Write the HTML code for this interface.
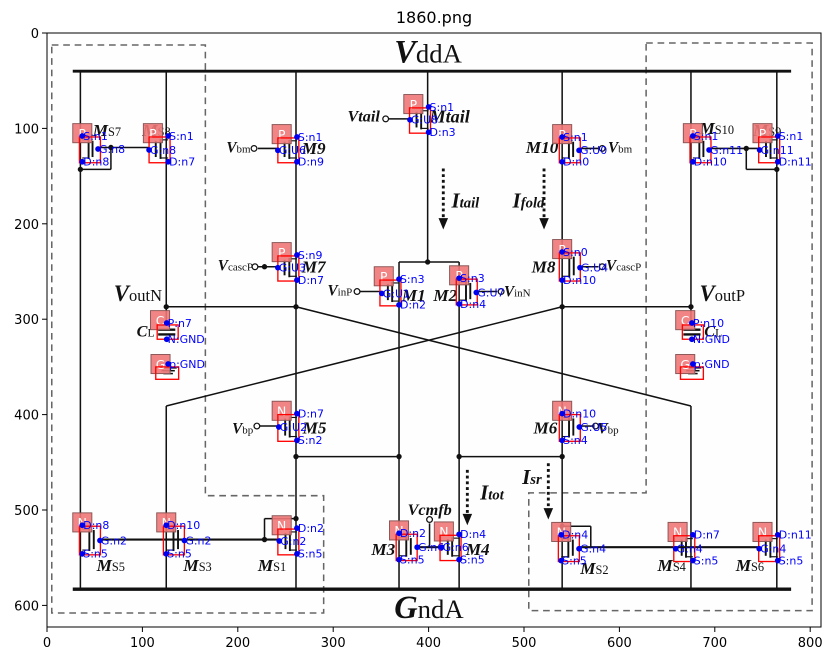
<!DOCTYPE html>
<html><head><meta charset="utf-8"><style>
html,body{margin:0;padding:0;background:#fff;}
svg{display:block;}
.tk{font-family:"DejaVu Sans","Liberation Sans",sans-serif;font-size:13px;fill:#000;}
.sl{font-family:"Liberation Serif",serif;font-style:italic;font-weight:bold;fill:#111;}
.bl{font-family:"DejaVu Sans","Liberation Sans",sans-serif;font-size:11.5px;fill:#0000ff;}
</style></head><body>
<svg id="fig" width="833" height="661" viewBox="0 0 833 661" xmlns="http://www.w3.org/2000/svg">
<rect x="0" y="0" width="833" height="661" fill="#fff"/>
<text x="434" y="23" text-anchor="middle" font-family="DejaVu Sans, Liberation Sans, sans-serif" font-size="16">1860.png</text>
<g id="img" transform="translate(47,33) scale(0.954)">
<rect x="0" y="0" width="811" height="623" fill="#fefefe"/>
<g id="dash" fill="none" stroke="#666" stroke-width="1.6" stroke-dasharray="7,5">
<polyline points="5,12.6 166,12.6 166,485 290,485 290,608 5,608 5,12.6"/>
<polyline points="628,10.5 802,10.5 802,605.5 505,605.5 505,482 628,482 628,10.5"/>
</g>
<g id="wires" stroke="#111" fill="none"></g>
<g id="labels"></g>
<g id="devs"></g>
</g>
<rect x="47" y="33" width="774" height="594" fill="none" stroke="#000" stroke-width="1"/>
<g id="axes"></g>
</svg>
<script>
const NS='http://www.w3.org/2000/svg';
// axis data
const xTicks=[0,100,200,300,400,500,600,700,800];
const yTicks=[0,100,200,300,400,500,600];
// devices: type, column x, gate x, top y, mid y, bottom y, labels (top, gate, bottom)
const devTypes=['P','P','P','P','P','P','P','P','P','P','P','N','N','N','N','N','N','N','N','N','N'];
const devCol=[37,127,262,400,262,369,432,540,540,677,766,262,540,37,125,262,369,432,539,677,766];
const devGate=[53.5,107,242,380.5,242,351,450,557.7,558.7,694,747,243,558,55.5,144,243.5,388,413.7,557.7,659,746.6];
const devTop=[108,108,109,77.5,232.7,258,257,109,229.5,108,108,399,399,516,516,519,524.4,525.5,526,526,526];
const devMid=[121.6,122.6,123,91,246,273,272,123,246,122.6,122.6,413,413,532,532,532.5,539,539,540.6,540.6,540.6];
const devBot=[135,135,135,104,259,285,284,135,259,135,135,427,427,546,546,546,552,552,553,553,553];
const devLabels=[['S:n1','G:n8','D:n8'],['S:n1','G:n8','D:n7'],['S:n1','G:U6','D:n9'],['S:n1','G:U8','D:n3'],['S:n9','G:U3','D:n7'],['S:n3','G:U1','D:n2'],['S:n3','G:U7','D:n4'],['S:n1','G:U0','D:n0'],['S:n0','G:U4','D:n10'],['S:n1','G:n11','D:n10'],['S:n1','G:n11','D:n11'],['D:n7','G:U2','S:n2'],['D:n10','G:U5','S:n4'],['D:n8','G:n2','S:n5'],['D:n10','G:n2','S:n5'],['D:n2','G:n2','S:n5'],['D:n2','G:n6','S:n5'],['D:n4','G:n6','S:n5'],['D:n4','G:n4','S:n5'],['D:n7','G:n4','S:n5'],['D:n11','G:n4','S:n5']];
// capacitors and grounds
const capCol=[125.5,676];
const capTop=[304,304];
const capBot=[321,321];
const capLabels=[['P:n7','N:GND'],['P:n10','N:GND']];
const gndCol=[127,677];
const gndY=[347,347];

function el(tag,attrs,parent){const e=document.createElementNS(NS,tag);for(const k in attrs)e.setAttribute(k,attrs[k]);parent.appendChild(e);return e;}
const W=document.getElementById('wires'),L=document.getElementById('labels'),D=document.getElementById('devs'),A=document.getElementById('axes');
function line(x1,y1,x2,y2,w,name){const e=el('line',{x1,y1,x2,y2,'stroke-width':w},W);

return e;}
// rails
line(27,40,780,40,3,'vdda-rail');line(27,583,780,583,3.6,'gnda-rail');
const segs=[[35,40,35,583],[125,40,125,305],[125,391,125,583],[261,40,261,583],[399,40,399,240],[369,240,369,583],[432,240,432,583],[540,40,540,583],[675,40,675,305],[675,391,675,583],[765,40,765,583],
[369,240,432,240],[125,287,261,287],[540,287,675,287],[261,444,369,444],[432,444,540,444],[261,287,675,391],[540,287,125,391],
[53,120,107,120],[67,120,67,143],[35,143,67,143],[694,121,747,121],[733,121,733,143],[733,143,765,143],
[221,121,243,121],[558,121,578,121],[358,90,380,90],[221,245,243,245],[558,245,578,245],[328,271,351,271],[450,271,472,271],[223,412,243,412],[558,412,572,412],
[55,531,243,531],[228,509,228,531],[228,509,261,509],[388,539,414,539],[401,514,401,539],[557,539,747,539],[540,517,570,517],[570,517,570,539]];
segs.forEach(s=>{line(s[0],s[1],s[2],s[3],(s[1]==531||s[1]==539)?2.2:1.6,'wire');});
const dots=[[35,143],[67,120],[733,121],[765,143],[125,287],[261,287],[540,287],[675,287],[261,444],[369,444],[432,444],[540,444],[399,240],[228,531],[261,509],[540,517],[228,245]];
dots.forEach(d=>{const c=el('circle',{cx:d[0],cy:d[1],r:2.3,fill:'#111'},W);

});
const terms=[[217,121],[582,121],[355,90],[218,245],[582,245],[325,271],[476,271],[220,412],[575,412],[401,510]];
terms.forEach(d=>{const c=el('circle',{cx:d[0],cy:d[1],r:3,fill:'#fff',stroke:'#111','stroke-width':1.3},W);

});
// current arrows
[[415.4,142,206],[521,142,206],[440.6,458,516],[525.5,451,510]].forEach(a=>{
 const l=el('line',{x1:a[0],y1:a[1],x2:a[0],y2:a[2]-10,'stroke-width':3,'stroke-dasharray':'3,3'},W);
 
 
 el('polygon',{points:`${a[0]-5},${a[2]-12} ${a[0]+5},${a[2]-12} ${a[0]},${a[2]}`,fill:'#111',stroke:'none'},W);
});
// schematic text labels
const texts=[['V',364,31,34,'vdda-label'],['G',364,613,34,'gnda-label'],['Vtail',315,93,17,'vtail-label'],['Mtail',401,94,19,'mtail-label'],['M9',267,127,18,'m9-label'],['Vbm',188,125,16,'vbm-left'],['MS7',48,108,18,'ms7-label'],['MS8',100,108,18,'ms8-label'],['M10',502,126,18,'m10-label'],['Vbm',588,125,16,'vbm-right'],['MS10',684,106,18,'ms10-label'],['MS9',740,108,18,'ms9-label'],
['Itail',424,183,22,'itail-label'],['Ifold',488,183,22,'ifold-label'],['VcascP',179,249,16,'vcascp-left'],['M7',267,251,18,'m7-label'],['M8',508,251,18,'m8-label'],['VcascP',586,249,16,'vcascp-right'],['VinP',294,275,16,'vinp-label'],['M1',372,281,18,'m1-label'],['M2',405,281,18,'m2-label'],['VinN',479,276,16,'vinn-label'],
['VoutN',70,281,24,'voutn-label'],['VoutP',684,281,24,'voutp-label'],['CL',94,318,17,'cl-left'],['CL',689,318,17,'cl-right'],['Vbp',194,420,16,'vbp-left'],['M5',268,420,18,'m5-label'],['M6',510,420,18,'m6-label'],['Vbp',577,420,16,'vbp-right'],
['Isr',498,473,22,'isr-label'],['Itot',454,489,22,'itot-label'],['Vcmfb',378,505,17,'vcmfb-label'],['MS5',52,564,18,'ms5-label'],['MS3',143,564,18,'ms3-label'],['MS1',221,564,18,'ms1-label'],['M3',340,547,18,'m3-label'],['M4',439,547,18,'m4-label'],['MS2',559,567,18,'ms2-label'],['MS4',640,564,18,'ms4-label'],['MS6',722,564,18,'ms6-label']];
texts.forEach(t=>{const e=el('text',{x:t[1],y:t[2],'font-size':t[3],class:'sl'},L);


let s=t[0];
if(s==='V'){e.textContent='V';const sp=el('tspan',{'font-style':'normal','font-weight':'normal','font-size':28},e);sp.textContent='ddA';}
else if(s==='G'){e.textContent='G';const sp=el('tspan',{'font-style':'normal','font-weight':'normal','font-size':28},e);sp.textContent='ndA';}
else if(/^M[S]/.test(s)||/^V/.test(s)&&s.length>1&&s!=='Vtail'&&s!=='Vcmfb'||s==='CL'){e.textContent=s[0];const sp=el('tspan',{'font-style':'normal','font-weight':'normal','font-size':t[3]*0.72},e);sp.textContent=s.slice(1);}
else if(/^I/.test(s)){e.textContent='I';const sp=el('tspan',{'font-size':t[3]*0.7},e);sp.textContent=s.slice(1);}
else e.textContent=s;});
// devices
function pink(x,y,letter){const r=el('rect',{x,y,width:20,height:20,fill:'#f07878','fill-opacity':0.9,stroke:'#8a5555','stroke-width':1},D);


const t=el('text',{x:x+10,y:y+15,'text-anchor':'middle','font-size':13,fill:'#fff','font-family':'DejaVu Sans, sans-serif'},D);t.textContent=letter;}
function blue(x,y,txt){const c=el('circle',{cx:x,cy:y,r:3,fill:'#0000ee'},D);


const t=el('text',{x:x+1,y:y+4,class:'bl'},D);t.textContent=txt;

}
for(let i=0;i<devCol.length;i++){
 const c=devCol[i],g=devGate[i],tp=devTop[i],md=devMid[i],bt=devBot[i];const right=g>c;
 const ch=c+(g-c)*0.4, gp=c+(g-c)*0.65;
 el('line',{x1:ch,y1:tp+3,x2:ch,y2:bt-3,stroke:'#111','stroke-width':2},D);
 el('line',{x1:gp,y1:tp+5,x2:gp,y2:bt-5,stroke:'#111','stroke-width':2},D);
 el('line',{x1:c,y1:tp+4,x2:ch,y2:tp+4,stroke:'#111','stroke-width':1.2},D);
 el('line',{x1:c,y1:bt-4,x2:ch,y2:bt-4,stroke:'#111','stroke-width':1.2},D);
 const px=right?c-10:c-26; pink(px,tp-13,devTypes[i]);
 const rr=el('rect',{x:right?c-3:c-20,y:tp+1,width:22,height:bt-tp,fill:'none',stroke:'#ff0000','stroke-width':1.4},D);
 
 
 blue(c,tp,devLabels[i][0]);blue(g,md,devLabels[i][1]);blue(c,bt,devLabels[i][2]);
}
for(let i=0;i<capCol.length;i++){const c=capCol[i];
 el('line',{x1:c-9,y1:311,x2:c+9,y2:311,stroke:'#111','stroke-width':2.5},D);
 el('line',{x1:c-9,y1:316,x2:c+9,y2:316,stroke:'#111','stroke-width':2.5},D);
 pink(c-17,capTop[i]-13,'C');
 const rr=el('rect',{x:c-10,y:capTop[i]+2,width:22,height:15,fill:'none',stroke:'#ff0000','stroke-width':1.4},D);
 
 
 blue(c,capTop[i],capLabels[i][0]);blue(c,capBot[i],capLabels[i][1]);}
for(let i=0;i<gndCol.length;i++){const c=gndCol[i],y=gndY[i];
 [0,3,6].forEach((o,k)=>el('line',{x1:c-9+k*2,y1:y+4+o,x2:c+9-k*2,y2:y+4+o,stroke:'#111','stroke-width':1.6},D));
 pink(c-18,y-10,'G');
 const rr=el('rect',{x:c-13,y:y+3,width:24,height:13,fill:'none',stroke:'#ff0000','stroke-width':1.4},D);
 
 
 blue(c,y,'p:GND');}
// axes
const sx=v=>47+v*0.954, sy=v=>33+v*0.954;
xTicks.forEach(v=>{el('line',{x1:sx(v),y1:627,x2:sx(v),y2:632,stroke:'#000','stroke-width':1},A);
 const t=el('text',{x:sx(v),y:647,'text-anchor':'middle',class:'tk'},A);t.textContent=v;
 
 });
yTicks.forEach(v=>{el('line',{x1:42,y1:sy(v),x2:47,y2:sy(v),stroke:'#000','stroke-width':1},A);
 const t=el('text',{x:39,y:sy(v)+5,'text-anchor':'end',class:'tk'},A);t.textContent=v;
 
 });
</script>
</body></html>
